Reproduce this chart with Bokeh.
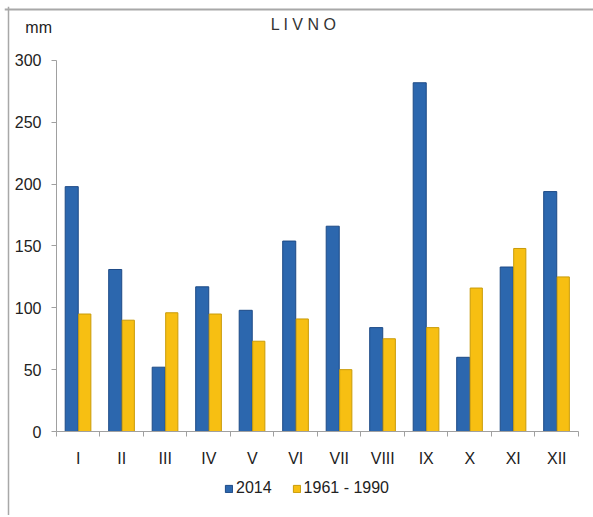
from bokeh.plotting import figure
from bokeh.models import ColumnDataSource, FixedTicker, Label, Legend, LegendItem, Range1d, Span
from bokeh.embed import file_html
from bokeh.resources import INLINE

months = ["I", "II", "III", "IV", "V", "VI", "VII", "VIII", "IX", "X", "XI", "XII"]
y2014 = [198, 131, 52, 117, 98, 154, 166, 84, 282, 60, 133, 194]
y1961_1990 = [95, 90, 96, 95, 73, 91, 50, 75, 84, 116, 148, 125]
y_ticks = [0, 50, 100, 150, 200, 250, 300]

n = len(months)
centers = [i + 0.5 for i in range(n)]
src = ColumnDataSource(dict(
    x1=[c - 0.15 for c in centers],
    x2=[c + 0.15 for c in centers],
    a=y2014, b=y1961_1990,
))

W, H = 589, 509
x_lo, x_hi = -1.1954, 12.345
y_lo, y_hi = -67.92, 343.66
p = figure(width=W, height=H, output_backend="svg", toolbar_location=None,
           x_range=Range1d(x_lo, x_hi), y_range=Range1d(y_lo, y_hi),
           min_border_left=0, min_border_right=0, min_border_top=0, min_border_bottom=0)
p.styles = {"margin-top": "6px", "margin-left": "4px"}
p.outline_line_color = None
p.xgrid.visible = False
p.ygrid.visible = False
p.background_fill_color = "white"
p.border_fill_color = "white"

# chart box edges (top and left visible in the reference)
p.add_layout(Span(location=y_hi - 2.45, dimension="width", line_color="#a8a8a8", line_width=2))
p.add_layout(Span(location=x_lo + 0.092, dimension="height", line_color="#a8a8a8", line_width=1.5))

r1 = p.vbar(x="x1", top="a", width=0.3, source=src, fill_color="#2c67ae", line_color="#1d4a86", line_width=1)
r2 = p.vbar(x="x2", top="b", width=0.28, source=src, fill_color="#f7bf12", line_color="#c99b08", line_width=1)

# axes
p.yaxis.fixed_location = 0
p.yaxis.bounds = (0, 300)
p.yaxis.ticker = FixedTicker(ticks=y_ticks)
p.yaxis.axis_line_color = "#a0a0a0"
p.yaxis.major_tick_line_color = "#a0a0a0"
p.yaxis.major_tick_out = 5
p.yaxis.major_tick_in = 0
p.yaxis.minor_tick_line_color = None
p.yaxis.major_label_text_font = "Liberation Sans"
p.yaxis.major_label_text_font_size = "16px"
p.yaxis.major_label_text_color = "#222222"
p.yaxis.major_label_standoff = 10

p.xaxis.fixed_location = 0
p.xaxis.bounds = (0, n)
p.xaxis.ticker = FixedTicker(ticks=centers, minor_ticks=list(range(n + 1)))
p.xaxis.major_label_overrides = {c: m for c, m in zip(centers, months)}
p.xaxis.axis_line_color = "#a0a0a0"
p.xaxis.major_tick_line_color = None
p.xaxis.minor_tick_line_color = "#a0a0a0"
p.xaxis.minor_tick_out = 5
p.xaxis.minor_tick_in = 0
p.xaxis.major_label_text_font = "Liberation Sans"
p.xaxis.major_label_text_font_size = "16px"
p.xaxis.major_label_text_color = "#222222"
p.xaxis.major_label_standoff = 12

# title and unit
p.add_layout(Label(x=5.68, y=329, text="L I V N O", text_font="Liberation Sans",
                   text_font_size="16px", text_color="#333333", text_align="center",
                   text_baseline="middle"))
p.add_layout(Label(x=-0.41, y=326.5, text="mm", text_font="Liberation Sans",
                   text_font_size="16px", text_color="#222222", text_align="center",
                   text_baseline="middle"))

legend = Legend(items=[LegendItem(label="2014", renderers=[r1]),
                       LegendItem(label="1961 - 1990", renderers=[r2])],
                orientation="horizontal", location=(220, 18),
                label_text_font="Liberation Sans", label_text_font_size="16px",
                label_text_color="#222222", glyph_width=9, glyph_height=9,
                label_standoff=3, spacing=20, padding=0, margin=0,
                border_line_color=None, background_fill_alpha=0)
p.add_layout(legend, "center")

open("out.html", "w").write(file_html(p, INLINE))
